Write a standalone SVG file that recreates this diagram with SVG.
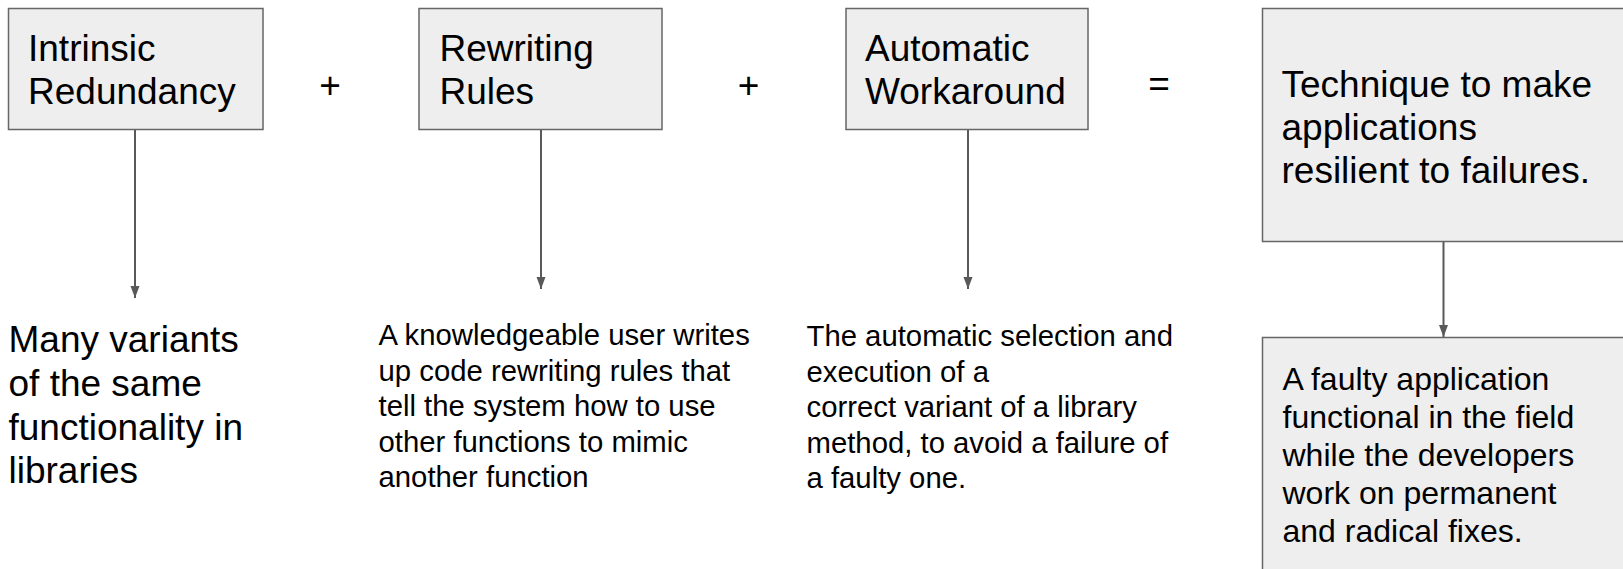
<svg xmlns="http://www.w3.org/2000/svg" width="1623" height="569" viewBox="0 0 1623 569">
<defs>
<style>
.box{fill:#eeeeee;stroke:#666666;stroke-width:1.5}
.t{font-family:"Liberation Sans",Arial,sans-serif;fill:#000000}
.big{font-size:37px}
.mid{font-size:32px}
.sm{font-size:29.3px}
.conn{stroke:#595959;stroke-width:2;fill:none;marker-end:url(#arr)}
</style>
<marker id="arr" markerUnits="userSpaceOnUse" markerWidth="13" markerHeight="10" refX="12" refY="4.5" orient="auto">
<path d="M0,0 L12,4.5 L0,9 Z" fill="#595959"/>
</marker>
</defs>
<rect width="1623" height="569" fill="#ffffff"/>
<g id="connectors">
<line class="conn" x1="135" y1="130" x2="135" y2="298"/>
<line class="conn" x1="541" y1="130" x2="541" y2="289"/>
<line class="conn" x1="968" y1="130" x2="968" y2="289"/>
<line class="conn" x1="1443.5" y1="241.5" x2="1443.5" y2="337"/>
</g>
<g id="intrinsic">
<rect class="box" x="8.5" y="8.5" width="254.5" height="121"/>
<text class="t big" x="28" y="61">Intrinsic</text>
<text class="t big" x="28" y="104">Redundancy</text>
</g>
<g id="plus1"><text class="t big" x="330" y="98" text-anchor="middle">+</text></g>
<g id="rewriting">
<rect class="box" x="419" y="8.5" width="243" height="121"/>
<text class="t big" x="439.5" y="61">Rewriting</text>
<text class="t big" x="439.5" y="104">Rules</text>
</g>
<g id="plus2"><text class="t big" x="748.5" y="98" text-anchor="middle">+</text></g>
<g id="workaround">
<rect class="box" x="846" y="8.5" width="242" height="121"/>
<text class="t big" x="865" y="61">Automatic</text>
<text class="t big" x="865" y="104">Workaround</text>
</g>
<g id="equals"><text class="t big" x="1159" y="96" text-anchor="middle">=</text></g>
<g id="technique">
<rect class="box" x="1262.5" y="8.5" width="370" height="233"/>
<text class="t big" x="1281.5" y="96.5">Technique to make</text>
<text class="t big" x="1281.5" y="139.5">applications</text>
<text class="t big" x="1281.5" y="182.5">resilient to failures.</text>
</g>
<g id="variants">
<text class="t big" x="8.5" y="352">Many variants</text>
<text class="t big" x="8.5" y="396">of the same</text>
<text class="t big" x="8.5" y="439.5">functionality in</text>
<text class="t big" x="8.5" y="483">libraries</text>
</g>
<g id="rules-desc">
<text class="t sm" x="378.5" y="345">A knowledgeable user writes</text>
<text class="t sm" x="378.5" y="380.5">up code rewriting rules that</text>
<text class="t sm" x="378.5" y="416">tell the system how to use</text>
<text class="t sm" x="378.5" y="451.5">other functions to mimic</text>
<text class="t sm" x="378.5" y="487">another function</text>
</g>
<g id="workaround-desc">
<text class="t sm" x="806.5" y="346">The automatic selection and</text>
<text class="t sm" x="806.5" y="381.5">execution of a</text>
<text class="t sm" x="806.5" y="417">correct variant of a library</text>
<text class="t sm" x="806.5" y="452.5">method, to avoid a failure of</text>
<text class="t sm" x="806.5" y="488">a faulty one.</text>
</g>
<g id="faulty">
<rect class="box" x="1262.5" y="337.5" width="370" height="250"/>
<text class="t mid" x="1282.5" y="390">A faulty application</text>
<text class="t mid" x="1282.5" y="428">functional in the field</text>
<text class="t mid" x="1282.5" y="466">while the developers</text>
<text class="t mid" x="1282.5" y="504">work on permanent</text>
<text class="t mid" x="1282.5" y="541.5">and radical fixes.</text>
</g>
</svg>
